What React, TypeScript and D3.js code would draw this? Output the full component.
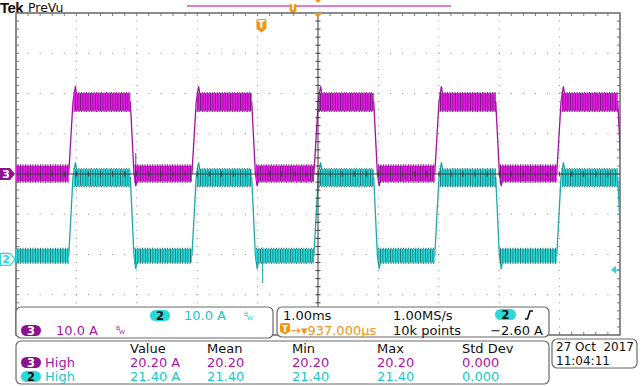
import React from "react";
import * as d3 from "d3";

// scope settings
const timePerDiv = 1.0; // ms / div
const triggerToCenter = 0.937; // ms
const ampsPerDiv = 10; // A / div (both channels)
const ch3Position = 0; // divs
const ch2Position = -2.12; // divs
const triggerLevel = -2.6; // A, on ch2

// switching edges (ms, relative to trigger)
const riseTimes = [-3.19, -1.15, 0.87, 2.87, 4.89];
const fallTimes = [-2.17, -0.16, 1.86, 3.88, 5.9];

// ripple bands [min, max] in A
const ch3LowBand = [-1.9, 2.1];
const ch3HighBand = [15.7, 20.1];
const ch2LowBand = [-0.8, 2.6];
const ch2HighBand = [18.2, 22.4];

// peak after rising edge, dip after falling edge (A)
const ch3Overshoot = [21.8, -3.0];
const ch2Overshoot = [24.1, -2.4];

// isolated spikes [ms, A]
const ch3Glitches = [[-2.08, 5.2]];
const ch2Glitches = [[0.02, -5.9]];

// measurement table
const measHeaders = ["Value", "Mean", "Min", "Max", "Std Dev"];
const ch3Meas = ["20.20 A", "20.20", "20.20", "20.20", "0.000"];
const ch2Meas = ["21.40 A", "21.40", "21.40", "21.40", "0.000"];

const W = 643;
const H = 386;
const gLeft = 16;
const gRight = 620;
const gTop = 13;
const gBottom = 335;

const MAG = "#e41ee4";
const MAG_DARK = "#74107a";
const MAG_TEXT = "#aa14aa";
const CYAN = "#2ad8d8";
const CYAN_DARK = "#147474";
const CYAN_TEXT = "#18c8c8";
const ORANGE = "#f39412";
const FONT = "DejaVu Sans, Verdana, sans-serif";

const x = d3
  .scaleLinear()
  .domain([triggerToCenter - 5 * timePerDiv, triggerToCenter + 5 * timePerDiv])
  .range([gLeft, gRight]);

const yFor = (pos: number) =>
  d3
    .scaleLinear()
    .domain([(-4 - pos) * ampsPerDiv, (4 - pos) * ampsPerDiv])
    .range([gBottom, gTop]);

const y3 = yFor(ch3Position);
const y2 = yFor(ch2Position);

type Band = { t0: number; t1: number; b: number[] };

function buildTrace(low: number[], high: number[], over: number[]) {
  const lowMid = (low[0] + low[1]) / 2;
  const highMid = (high[0] + high[1]) / 2;
  const [t0, t1] = x.domain();
  const bands: Band[] = [];
  const pts: [number, number][] = [];
  let start = t0 - 0.1;
  riseTimes.forEach((r, i) => {
    const f = fallTimes[i];
    bands.push({ t0: start, t1: r, b: low });
    pts.push([start, lowMid], [r, lowMid], [r + 0.07, highMid], [r + 0.11, over[0]], [r + 0.15, highMid]);
    bands.push({ t0: r + 0.08, t1: f, b: high });
    pts.push([f, highMid], [f + 0.06, lowMid], [f + 0.09, over[1]], [f + 0.13, lowMid]);
    start = f + 0.07;
  });
  bands.push({ t0: start, t1: t1 + 0.1, b: low });
  pts.push([t1 + 0.1, lowMid]);
  return { bands, pts, lowMid };
}

const Trace = ({ low, high, over, glitches, y, fill, edge, dark }: any) => {
  const { bands, pts, lowMid } = buildTrace(low, high, over);
  const line = d3
    .line<[number, number]>()
    .x((d) => x(d[0]))
    .y((d) => y(d[1]));
  return (
    <g clipPath="url(#plotClip)">
      <path d={line(pts) || ""} fill="none" stroke={edge} strokeWidth={1.3} />
      {glitches.map((g: number[], i: number) => (
        <line key={i} x1={x(g[0])} x2={x(g[0])} y1={y(lowMid)} y2={y(g[1])} stroke={edge} strokeWidth={1} />
      ))}
      {bands.map((s, i) => {
        const x0 = x(s.t0);
        const w = Math.max(0, x(s.t1) - x0);
        const top = y(s.b[1]);
        const bot = y(s.b[0]);
        return (
          <g key={i}>
            <rect x={x0} y={top} width={w} height={bot - top} fill={fill} />
            <line x1={x0} x2={x0 + w} y1={top - 0.5} y2={top - 0.5} stroke={dark} strokeWidth={1.4} strokeDasharray="0.9 1.6" />
            <line x1={x0} x2={x0 + w} y1={bot + 0.5} y2={bot + 0.5} stroke={dark} strokeWidth={1.4} strokeDasharray="1.1 1.4" />
          </g>
        );
      })}
    </g>
  );
};

const Graticule = () => {
  const divX = (gRight - gLeft) / 10;
  const divY = (gBottom - gTop) / 8;
  const dots: JSX.Element[] = [];
  for (let i = 1; i < 10; i++) {
    if (i === 5) continue;
    const gx = gLeft + i * divX;
    for (let k = 1; k < 40; k++) {
      dots.push(<rect key={`v${i}-${k}`} x={gx - 0.5} y={gTop + (k * divY) / 5 - 0.5} width={1} height={1} fill="#8c8c8c" />);
    }
  }
  for (let j = 1; j < 8; j++) {
    if (j === 4) continue;
    const gy = gTop + j * divY;
    for (let k = 1; k < 50; k++) {
      dots.push(<rect key={`h${j}-${k}`} x={gLeft + (k * divX) / 5 - 0.5} y={gy - 0.5} width={1} height={1} fill="#8c8c8c" />);
    }
  }
  const ticks: JSX.Element[] = [];
  for (let k = 1; k < 50; k++) {
    const tx = gLeft + (k * divX) / 5;
    ticks.push(<line key={`t${k}`} x1={tx} x2={tx} y1={gTop} y2={gTop + 3} />);
    ticks.push(<line key={`b${k}`} x1={tx} x2={tx} y1={gBottom} y2={gBottom - 3} />);
  }
  for (let k = 1; k < 40; k++) {
    const ty = gTop + (k * divY) / 5;
    ticks.push(<line key={`l${k}`} x1={gLeft} x2={gLeft + 3} y1={ty} y2={ty} />);
    ticks.push(<line key={`r${k}`} x1={gRight} x2={gRight - 3} y1={ty} y2={ty} />);
  }
  return (
    <g>
      {dots}
      <g stroke="#7a7a7a" strokeWidth={1}>
        {ticks}
      </g>
      <rect x={gLeft} y={gTop} width={gRight - gLeft} height={gBottom - gTop} fill="none" stroke="#707070" strokeWidth={1.6} />
    </g>
  );
};

const CenterCross = () => {
  const divX = (gRight - gLeft) / 10;
  const divY = (gBottom - gTop) / 8;
  const cx = (gLeft + gRight) / 2;
  const cy = (gTop + gBottom) / 2;
  const t: JSX.Element[] = [];
  for (let k = 1; k < 50; k++) {
    const tx = gLeft + (k * divX) / 5;
    t.push(<line key={`a${k}`} x1={tx} x2={tx} y1={cy - 2.5} y2={cy + 2.5} />);
  }
  for (let k = 1; k < 40; k++) {
    const ty = gTop + (k * divY) / 5;
    t.push(<line key={`b${k}`} x1={cx - 2.5} x2={cx + 2.5} y1={ty} y2={ty} />);
  }
  return (
    <g stroke="#3c3c3c" strokeWidth={1}>
      <line x1={gLeft} x2={gRight} y1={cy} y2={cy} />
      <line x1={cx} x2={cx} y1={gTop} y2={gBottom} />
      {t}
    </g>
  );
};

const TMarker = ({ cx, top, w, h }: any) => (
  <g>
    <path
      d={`M${cx - w / 2},${top + 1.5} q0,-1.5 1.5,-1.5 h${w - 3} q1.5,0 1.5,1.5 v${h - 4} l${-w / 2},4 l${-w / 2},-4 z`}
      fill={ORANGE}
    />
    <text x={cx} y={top + h - 3.5} textAnchor="middle" fontSize={h - 2} fontWeight="bold" fill="#fff" fontFamily={FONT}>
      T
    </text>
  </g>
);

const Pill = ({ x0, y0, w, h, fill, color, label }: any) => (
  <g>
    <rect x={x0} y={y0} width={w} height={h} rx={h / 2} fill={fill} />
    <text x={x0 + w / 2} y={y0 + h - 1.5} textAnchor="middle" fontSize={11.5} fontWeight="bold" fill={color} fontFamily={FONT}>
      {label}
    </text>
  </g>
);

const BW = ({ x0, y0, color }: any) => (
  <g fill={color} fontSize={6} fontFamily={FONT}>
    <text x={x0} y={y0 - 4}>B</text>
    <text x={x0 + 3} y={y0}>W</text>
  </g>
);

export default function App() {
  const cy3 = y3(0);
  const cy2 = y2(0);
  const trigY = y2(triggerLevel);
  const trigX = x(0);
  const cx = (gLeft + gRight) / 2;
  const colX = [130, 207, 292, 377, 462];
  return (
    <svg width={W} height={H} style={{ position: "absolute", left: 0, top: 0, background: "#fff" }} fontFamily={FONT}>
      <defs>
        <clipPath id="plotClip">
          <rect x={gLeft} y={gTop} width={gRight - gLeft} height={gBottom - gTop} />
        </clipPath>
        <pattern id="rip3" width={2.5} height={20} patternUnits="userSpaceOnUse">
          <rect width={2.5} height={20} fill={MAG} />
          <rect width={0.8} height={20} fill={MAG_DARK} />
        </pattern>
        <pattern id="rip2" width={2.5} height={20} patternUnits="userSpaceOnUse">
          <rect width={2.5} height={20} fill={CYAN} />
          <rect width={0.8} height={20} fill={CYAN_DARK} />
        </pattern>
      </defs>
      <rect width={W} height={H} fill="#fff" />

      {/* header */}
      <text x={0} y={13} fontSize={15} fontWeight="bold" fontFamily="Liberation Sans, Arial, sans-serif" fill="#111" letterSpacing={-0.6}>
        Tek
      </text>
      <text x={28} y={12} fontSize={12.5} fill="#111">
        PreVu
      </text>
      <rect x={187} y={5} width={264} height={2} fill="#d77fd7" />
      <TMarker cx={293} top={3} w={7} h={10} />
      <path d={`M${cx - 3},0 h6 l-3,3 z`} fill={ORANGE} />

      <Graticule />

      <Trace low={ch2LowBand} high={ch2HighBand} over={ch2Overshoot} glitches={ch2Glitches} y={y2} fill="url(#rip2)" edge="#1fa8a8" dark={CYAN_DARK} />
      <Trace low={ch3LowBand} high={ch3HighBand} over={ch3Overshoot} glitches={ch3Glitches} y={y3} fill="url(#rip3)" edge="#a012a0" dark={MAG_DARK} />

      <CenterCross />

      {/* trigger position & expansion point */}
      <TMarker cx={trigX} top={19} w={10} h={12} />
      <path d={`M${cx - 4.5},${gTop} h9 l-4.5,4.5 z`} fill={ORANGE} />

      {/* channel ground markers */}
      <path d={`M0,${cy3 - 6} h10 l5,6 l-5,6 h-10 z`} fill="#8e128e" />
      <text x={6} y={cy3 + 4} textAnchor="middle" fontSize={11} fontWeight="bold" fill="#fff">
        3
      </text>
      <path d={`M0.5,${cy2 - 6} h9.5 l5,6 l-5,6 h-9.5 z`} fill="#fff" stroke={CYAN} strokeWidth={1.2} />
      <text x={6} y={cy2 + 4} textAnchor="middle" fontSize={11} fontWeight="bold" fill={CYAN}>
        2
      </text>

      {/* trigger level */}
      <path d={`M${gRight - 9},${trigY} l5,-4 v8 z`} fill={CYAN} />
      <line x1={gRight - 5} x2={gRight - 1} y1={trigY} y2={trigY} stroke={CYAN} strokeWidth={1.5} />

      {/* vertical settings panel */}
      <rect x={16} y={307} width={257} height={31} rx={5} fill="#fff" stroke="#6a6a6a" strokeWidth={1.2} />
      <Pill x0={150} y0={310} w={20} h={11} fill={CYAN} color="#111" label="2" />
      <text x={184} y={320} fontSize={13} fill={CYAN_TEXT}>
        10.0 A
      </text>
      <BW x0={244} y0={320} color={CYAN_TEXT} />
      <Pill x0={21} y0={325} w={20} h={11} fill="#8e128e" color="#fff" label="3" />
      <text x={56} y={334.5} fontSize={13} fill={MAG_TEXT}>
        10.0 A
      </text>
      <BW x0={116} y0={334} color={MAG_TEXT} />

      {/* horizontal / trigger panel */}
      <rect x={277} y={307} width={272} height={30} rx={5} fill="#fff" stroke="#6a6a6a" strokeWidth={1.2} />
      <text x={283} y={320} fontSize={13} fill="#111">
        1.00ms
      </text>
      <text x={393} y={320} fontSize={13} fill="#111">
        1.00MS/s
      </text>
      <Pill x0={495} y0={309} w={21} h={11} fill={CYAN} color="#111" label="2" />
      <path d="M525,319 h2.5 l2.5,-8 h3" fill="none" stroke="#111" strokeWidth={1.6} />
      <path d="M280,324.5 q0,-1.5 1.5,-1.5 h7 q1.5,0 1.5,1.5 v7 l-5,3 l-5,-3 z" fill={ORANGE} />
      <text x={285} y={332} textAnchor="middle" fontSize={9} fontWeight="bold" fill="#fff">
        T
      </text>
      <text x={290} y={334.5} fontSize={13} fill={ORANGE}>
        →▾937.000µs
      </text>
      <text x={393} y={334.5} fontSize={13} fill="#111">
        10k points
      </text>
      <text x={543} y={334.5} textAnchor="end" fontSize={13} fill="#111">
        −2.60 A
      </text>

      {/* measurements */}
      <rect x={16} y={341} width={533} height={43} rx={5} fill="#fff" stroke="#6a6a6a" strokeWidth={1.2} />
      {measHeaders.map((h, i) => (
        <text key={h} x={colX[i]} y={352.5} fontSize={13} fill="#111">
          {h}
        </text>
      ))}
      <Pill x0={21} y0={357} w={20} h={11} fill="#8e128e" color="#fff" label="3" />
      <text x={45} y={367} fontSize={13} fill={MAG_TEXT}>
        High
      </text>
      {ch3Meas.map((v, i) => (
        <text key={i} x={colX[i]} y={367} fontSize={13} fill={MAG_TEXT}>
          {v}
        </text>
      ))}
      <Pill x0={21} y0={371} w={20} h={11} fill={CYAN} color="#111" label="2" />
      <text x={45} y={381} fontSize={13} fill={CYAN_TEXT}>
        High
      </text>
      {ch2Meas.map((v, i) => (
        <text key={i} x={colX[i]} y={381} fontSize={13} fill={CYAN_TEXT}>
          {v}
        </text>
      ))}

      {/* date */}
      <rect x={552} y={339} width={85} height={29} rx={5} fill="#fff" stroke="#6a6a6a" strokeWidth={1.2} />
      <text x={556} y={351} fontSize={12} fill="#111" style={{ whiteSpace: "pre" }}>
        {"27 Oct  2017"}
      </text>
      <text x={556} y={365} fontSize={12} fill="#111">
        11:04:11
      </text>
    </svg>
  );
}
